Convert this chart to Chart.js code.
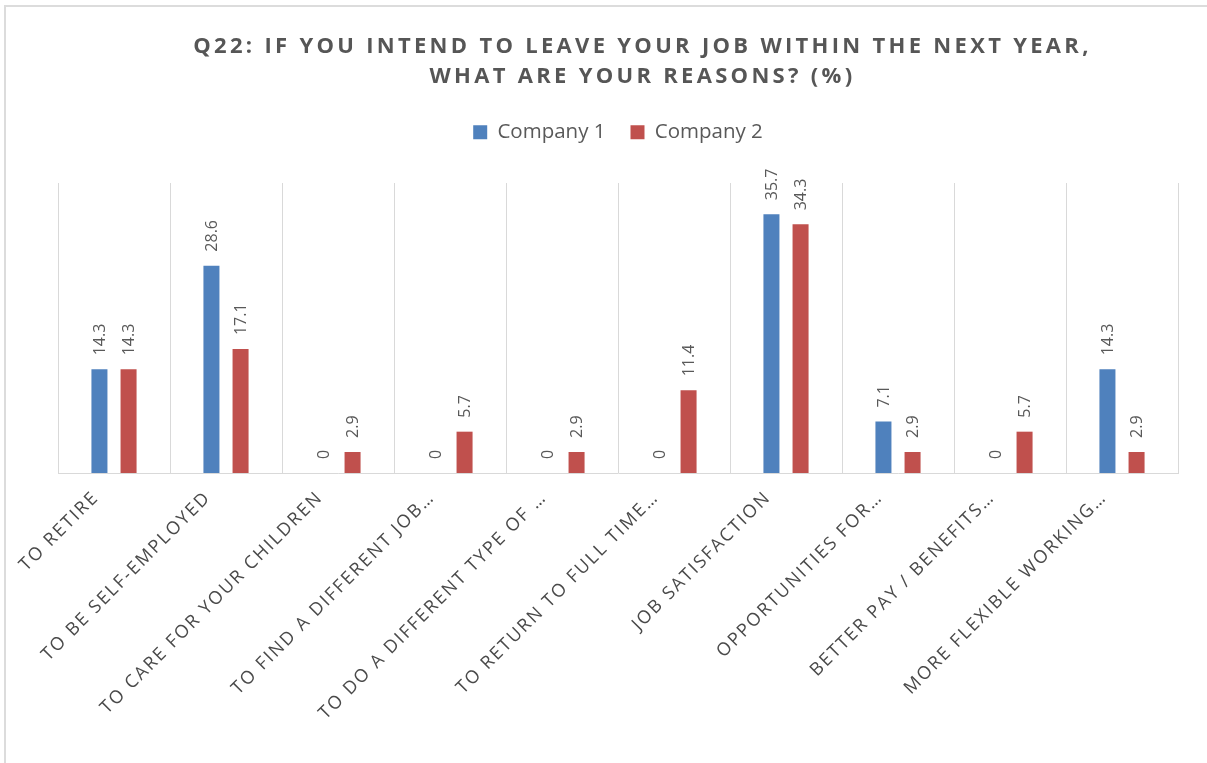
<!DOCTYPE html>
<html>
<head>
<meta charset="utf-8">
<script src="https://cdn.jsdelivr.net/npm/chart.js@4/dist/chart.umd.min.js"></script>
<style>
  html, body { margin: 0; padding: 0; background: #ffffff; }
  #wrap { position: relative; width: 1207px; height: 763px; overflow: hidden; background: #fff; }
  #frame { position: absolute; left: 4px; top: 5px; width: 1300px; height: 900px;
           border-top: 2px solid #dcdcdc; border-left: 2px solid #dcdcdc; box-sizing: border-box; pointer-events: none; }
  #title { position: absolute; left: 40px; width: 1205px; top: 29px; text-align: center;
           font-family: "Open Sans", sans-serif; font-weight: 700; font-size: 22px; line-height: 30px;
           letter-spacing: 3.3px; color: #565656; }
  canvas { position: absolute; left: 0; top: 0; }
</style>
</head>
<body>
<div id="wrap">
  <canvas id="c" width="1207" height="763"></canvas>
  <div id="frame"></div>
  <div id="title">Q22: IF YOU INTEND TO LEAVE YOUR JOB WITHIN THE NEXT YEAR,<br>WHAT ARE YOUR REASONS? (%)</div>
</div>
<script>
const categories = [
  "TO RETIRE",
  "TO BE SELF-EMPLOYED",
  "TO CARE FOR YOUR CHILDREN",
  "TO FIND A DIFFERENT JOB…",
  "TO DO A DIFFERENT TYPE OF …",
  "TO RETURN TO FULL TIME…",
  "JOB SATISFACTION",
  "OPPORTUNITIES FOR…",
  "BETTER PAY / BENEFITS…",
  "MORE FLEXIBLE WORKING…"
];
const company1 = [14.3, 28.6, 0, 0, 0, 0, 35.7, 7.1, 0, 14.3];
const company2 = [14.3, 17.1, 2.9, 5.7, 2.9, 11.4, 34.3, 2.9, 5.7, 2.9];
const seriesNames = ["Company 1", "Company 2"];

const TEXT = "#595959";

const valueLabels = {
  id: "valueLabels",
  afterDatasetsDraw(chart) {
    const ctx = chart.ctx;
    ctx.save();
    ctx.font = "16px 'Open Sans', sans-serif";
    ctx.fillStyle = TEXT;
    ctx.textAlign = "left";
    ctx.textBaseline = "middle";
    chart.data.datasets.forEach((ds, di) => {
      const meta = chart.getDatasetMeta(di);
      meta.data.forEach((bar, i) => {
        ctx.save();
        ctx.translate(bar.x + 1, bar.y - 14);
        ctx.rotate(-Math.PI / 2);
        ctx.fillText(String(ds.data[i]), 0, 0);
        ctx.restore();
      });
    });
    ctx.restore();
  }
};

const spacing = {
  id: "spacing",
  beforeInit(chart) {
    const lg = chart.legend;
    if (lg) {
      const orig = lg.fit;
      lg.fit = function () { orig.call(this); this.height = 86; };
    }
  },
  afterLayout(chart) {
    const s = chart.scales.x;
    if (s && !s._lsPatched) {
      const orig = s.drawLabels;
      s.drawLabels = function (area) {
        const c = this.ctx;
        const prev = c.letterSpacing;
        c.letterSpacing = "2px";
        orig.call(this, area);
        c.letterSpacing = prev || "0px";
      };
      s._lsPatched = true;
    }
  }
};

new Chart(document.getElementById("c"), {
  type: "bar",
  data: {
    labels: categories,
    datasets: [
      { label: seriesNames[0], data: company1, backgroundColor: "#4f81bd",
        categoryPercentage: 0.52, barPercentage: 0.55 },
      { label: seriesNames[1], data: company2, backgroundColor: "#c0504d",
        categoryPercentage: 0.52, barPercentage: 0.55 }
    ]
  },
  options: {
    responsive: false,
    animation: false,
    devicePixelRatio: 1,
    layout: { padding: { left: 58, right: 29, top: 97, bottom: 0 } },
    plugins: {
      legend: {
        position: "top",
        labels: {
          boxWidth: 14, boxHeight: 14, padding: 25,
          color: TEXT,
          font: { family: "'Open Sans', sans-serif", size: 20.5 }
        }
      },
      title: { display: false },
      tooltip: { enabled: false }
    },
    scales: {
      x: {
        grid: { color: "#d9d9d9", lineWidth: 1, drawTicks: false, offset: true },
        border: { color: "#d9d9d9", width: 1 },
        ticks: {
          color: "#4a4a4a", maxRotation: 45, minRotation: 45, autoSkip: false, padding: 14,
          labelOffset: -18,
          font: { family: "'Open Sans', sans-serif", size: 18 }
        },
        afterFit(scale) { scale.height = 290; }
      },
      y: {
        display: false,
        min: 0, max: 40
      }
    }
  },
  plugins: [valueLabels, spacing]
});
</script>
</body>
</html>
